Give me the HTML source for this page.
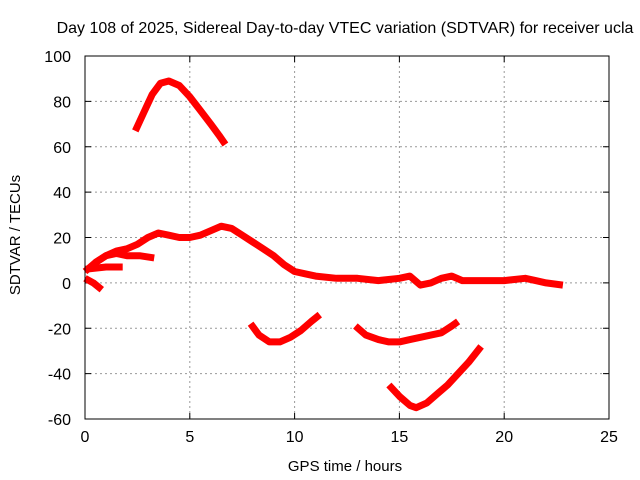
<!DOCTYPE html>
<html><head><meta charset="utf-8"><style>
body{margin:0;background:#fff;}
svg{display:block;font-family:"Liberation Sans",sans-serif;}
</style></head><body>
<svg id="chart" width="640" height="480">
<text x="345" y="33" font-size="16" text-anchor="middle">Day 108 of 2025, Sidereal Day-to-day VTEC variation (SDTVAR) for receiver ucla</text>
<text x="345" y="471" font-size="15" text-anchor="middle">GPS time / hours</text>
<text x="20" y="235" font-size="15" text-anchor="middle" transform="rotate(-90 20 235)">SDTVAR / TECUs</text>
<g id="grid"></g><g id="ticks"></g><g id="series"></g>
<rect x="85" y="56" width="524" height="363" fill="none" stroke="#000" stroke-width="1"/>
</svg>
<script>
const xTicks=[0,5,10,15,20,25];
const yTicks=[-60,-40,-20,0,20,40,60,80,100];
const arcT=[2.4,2.8,3.2,3.6,4.0,4.5,5.0,5.5,6.0,6.4,6.7];
const arcV=[67,75,83,88,89,87,82,76,70,65,61];
const mainT=[0,0.5,1,1.5,2,2.5,3,3.5,4,4.5,5,5.5,6,6.5,7,7.5,8,8.5,9,9.5,10,10.5,11,12,13,14,15,15.5,16,16.5,17,17.5,18,19,20,21,21.5,22,22.8];
const mainV=[5,9,12,14,15,17,20,22,21,20,20,21,23,25,24,21,18,15,12,8,5,4,3,2,2,1,2,3,-1,0,2,3,1,1,1,2,1,0,-1];
const branchT=[0.5,1,1.5,2,2.6,3.3];
const branchV=[9,12,13,12,12,11];
const shortT=[0,1,1.8];
const shortV=[6,7,7];
const dropT=[0,0.4,0.8];
const dropV=[2,0,-3];
const dipAT=[7.9,8.3,8.8,9.3,9.8,10.3,10.8,11.2];
const dipAV=[-18,-23,-26,-26,-24,-21,-17,-14];
const dipBT=[12.9,13.4,14,14.5,15,15.5,16,16.5,17,17.5,17.8];
const dipBV=[-19,-23,-25,-26,-26,-25,-24,-23,-22,-19,-17];
const dipCT=[14.5,15,15.5,15.8,16.3,16.8,17.3,17.8,18.3,18.9];
const dipCV=[-45,-50,-54,-55,-53,-49,-45,-40,-35,-28];
const X0=85,X1=609,Y0=419,Y1=56,XMIN=0,XMAX=25,YMIN=-60,YMAX=100;
const sx=t=>X0+(t-XMIN)/(XMAX-XMIN)*(X1-X0);
const sy=v=>Y0-(v-YMIN)/(YMAX-YMIN)*(Y0-Y1);
const NS="http://www.w3.org/2000/svg";
const grid=document.getElementById('grid'),ticks=document.getElementById('ticks'),series=document.getElementById('series');
function mk(tag,attrs,parent){const e=document.createElementNS(NS,tag);for(const k in attrs)e.setAttribute(k,attrs[k]);parent.appendChild(e);return e;}
xTicks.forEach(t=>{const x=sx(t);
 if(t>XMIN&&t<XMAX){const g=mk('line',{x1:x,x2:x,y1:Y1,y2:Y0,stroke:'#999','stroke-dasharray':'2,3'},grid);
 
 }
 const k=mk('path',{d:`M${x},${Y0}v-6M${x},${Y1}v6`,stroke:'#000'},ticks);
 
 
 const l=mk('text',{x:x,y:Y0+23,'font-size':16,'text-anchor':'middle'},ticks);l.textContent=t;
 
 });
yTicks.forEach(v=>{const y=sy(v);
 if(v>YMIN&&v<YMAX){const g=mk('line',{x1:X0,x2:X1,y1:y,y2:y,stroke:'#999','stroke-dasharray':'2,3'},grid);
 
 }
 const k=mk('path',{d:`M${X0},${y}h6M${X1},${y}h-6`,stroke:'#000'},ticks);
 
 
 const l=mk('text',{x:X0-14,y:y+6,'font-size':16,'text-anchor':'end'},ticks);l.textContent=v;
 
 });
function drawSeries(T,V,name){
 const d=T.map((t,i)=>(i?'L':'M')+sx(t).toFixed(1)+','+sy(V[i]).toFixed(1)).join('');
 const p=mk('path',{d:d,fill:'none',stroke:'#f00','stroke-width':7,'stroke-linejoin':'round','stroke-linecap':'butt'},series);
 
 
}
drawSeries(arcT,arcV,'series-arc');
drawSeries(mainT,mainV,'series-main');
drawSeries(branchT,branchV,'series-branch');
drawSeries(shortT,shortV,'series-short');
drawSeries(dropT,dropV,'series-drop');
drawSeries(dipAT,dipAV,'series-dip-a');
drawSeries(dipBT,dipBV,'series-dip-b');
drawSeries(dipCT,dipCV,'series-dip-c');
</script>
</body></html>
